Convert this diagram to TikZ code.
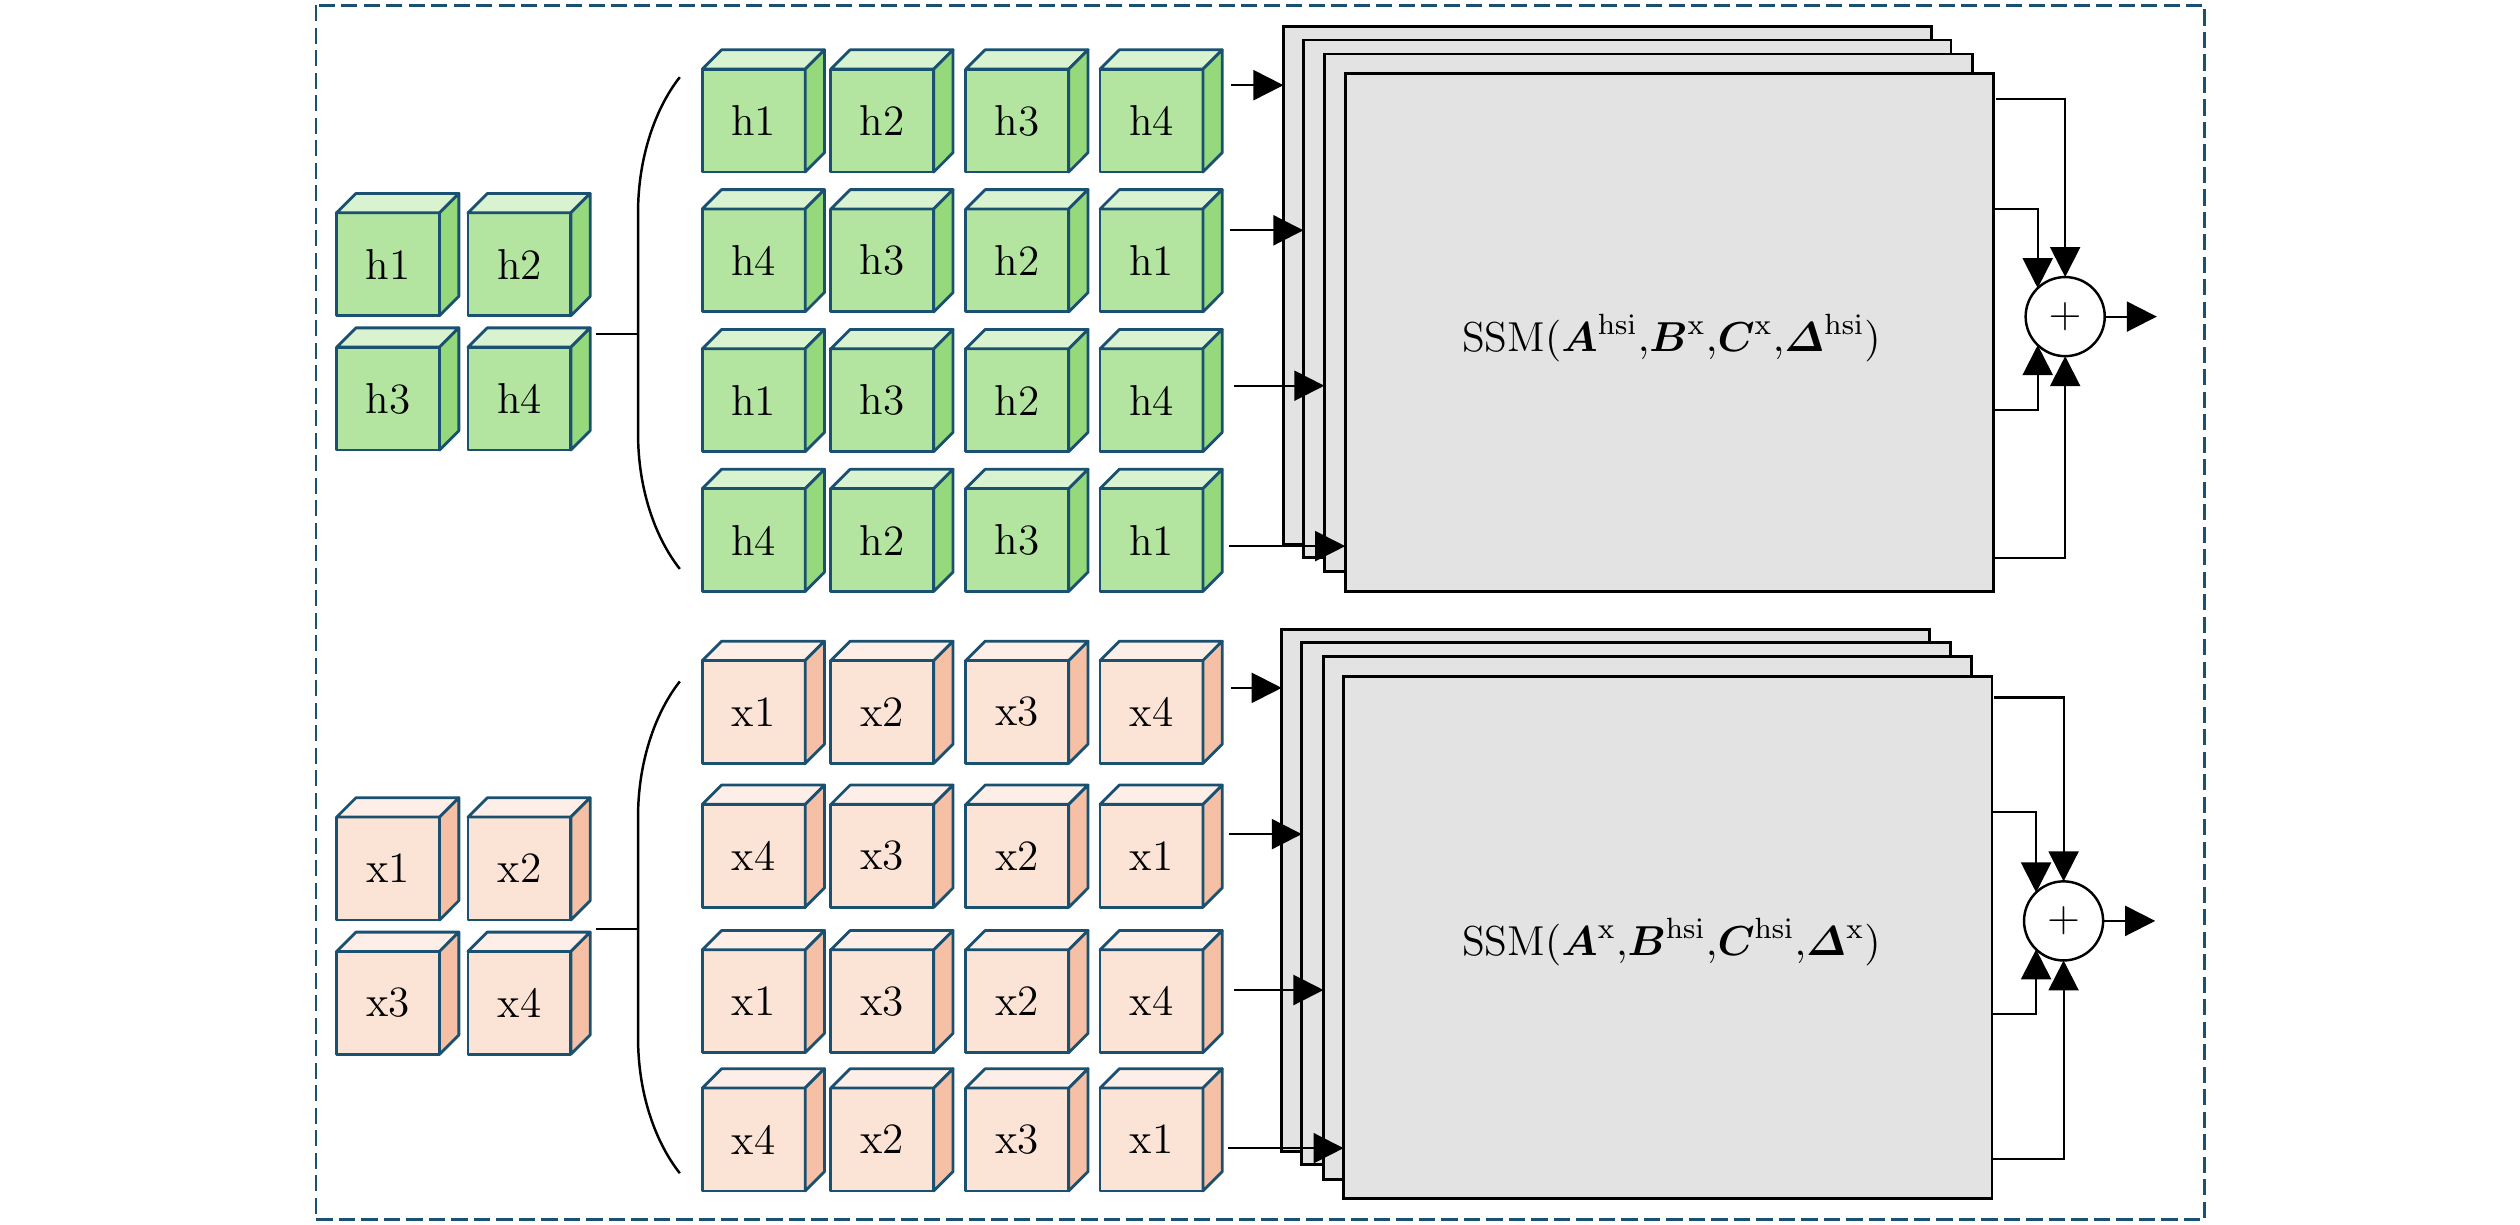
\RequirePackage{fix-cm}
\documentclass[tikz,border=0pt]{standalone}
\usepackage{amsmath}
\usetikzlibrary{arrows.meta,fit}
\definecolor{gfront}{HTML}{B3E5A1}
\definecolor{gtop}{HTML}{D9F2D0}
\definecolor{gside}{HTML}{95D97C}
\definecolor{ofront}{HTML}{FBE3D6}
\definecolor{otop}{HTML}{FDEFE8}
\definecolor{oside}{HTML}{F5C0A5}
\definecolor{cubeblue}{HTML}{1B5170}
\definecolor{boxgray}{HTML}{E3E3E3}
\tikzset{
  lbl/.style={font=\fontsize{12.3}{14}\selectfont},
  ssmlbl/.style={font=\fontsize{11.9}{14}\selectfont, anchor=base, inner sep=0pt},
  cubeline/.style={draw=cubeblue, line width=0.8pt, line join=round},
  cubefront/.style={cubeline, rectangle, minimum width=1.0286cm, minimum height=1.0286cm, inner sep=0pt, outer sep=0pt, lbl},
  ssmbox/.style={draw=black, fill=boxgray, line width=0.8pt, inner sep=0pt, outer sep=0pt},
  arr/.style={-{Triangle[length=0.3cm,width=0.3cm]}, line width=0.6pt},
  plainline/.style={line width=0.6pt},
  bracketline/.style={line width=0.7pt},
  plusnode/.style={circle, draw=black, fill=white, line width=0.7pt, minimum size=0.7907cm, inner sep=0pt, outer sep=0pt, lbl},
  dashborder/.style={draw=cubeblue, line width=0.8pt, dash pattern=on 4.6pt off 1.8pt},
}
\newcommand\drawcube[5]{%
  \node[cubefront, fill=#4front] (#1) at (#2+32,#3+32) {#5};
  \draw[cubeline, fill=#4top] (#1.north west) -- ++(12,-12) -- ++(64,0) -- (#1.north east) -- cycle;
  \draw[cubeline, fill=#4side] (#1.north east) -- ++(12,-12) -- ++(0,64) -- (#1.south east) -- cycle;
}
\begin{document}
\begin{tikzpicture}[x=0.016071cm, y=-0.016071cm]
\useasboundingbox (0,0) rectangle (1568,762);
\draw[dashborder] (196.6,3.3) rectangle (1371.7,759);

% ---------- top (green) ----------
\drawcube{sh1}{209.5}{132.4}{g}{h1}
\drawcube{sh2}{291.2}{132.4}{g}{h2}
\drawcube{sh3}{209.5}{216}{g}{h3}
\drawcube{sh4}{291.2}{216}{g}{h4}

\drawcube{g11}{437}{43}{g}{h1}
\drawcube{g12}{517}{43}{g}{h2}
\drawcube{g13}{601}{43}{g}{h3}
\drawcube{g14}{684.5}{43}{g}{h4}
\drawcube{g21}{437}{130}{g}{h4}
\drawcube{g22}{517}{130}{g}{h3}
\drawcube{g23}{601}{130}{g}{h2}
\drawcube{g24}{684.5}{130}{g}{h1}
\drawcube{g31}{437}{217}{g}{h1}
\drawcube{g32}{517}{217}{g}{h3}
\drawcube{g33}{601}{217}{g}{h2}
\drawcube{g34}{684.5}{217}{g}{h4}
\drawcube{g41}{437}{304}{g}{h4}
\drawcube{g42}{517}{304}{g}{h2}
\drawcube{g43}{601}{304}{g}{h3}
\drawcube{g44}{684.5}{304}{g}{h1}

\coordinate (tl) at (371,208);
\coordinate (tk) at (397,208);
\draw[plainline] (tl) -- (tk);
\draw[bracketline] (423,48) .. controls (408,67) and (397,97.5) .. (397,132.5) -- (397,269.5) .. controls (397,305) and (408,335) .. (423,354);

\node[ssmbox, fit={(798.6,16.6) (1201.7,338.7)}] (tb1) {};
\node[ssmbox, fit={(811,24.9) (1214,346.8)}] (tb2) {};
\node[ssmbox, fit={(824,33.6) (1227.5,355.7)}] (tb3) {};
\node[ssmbox, fit={(837,45.6) (1240.4,368.2)}] (tb4) {};
\node[ssmlbl] (tssm) at (1040,219) {SSM$(\boldsymbol{A}^{\mathrm{hsi}}{,}\boldsymbol{B}^{\mathrm{x}}{,}\boldsymbol{C}^{\mathrm{x}}{,}\boldsymbol{\varDelta}^{\mathrm{hsi}})$};

\coordinate (ta1) at (766,53);
\coordinate (ta2) at (765.4,143.3);
\coordinate (ta3) at (768,240);
\coordinate (ta4) at (765,339.8);
\draw[arr] (ta1) -- (ta1 -| tb1.west);
\draw[arr] (ta2) -- (ta2 -| tb2.west);
\draw[arr] (ta3) -- (ta3 -| tb3.west);
\draw[arr] (ta4) -- (ta4 -| tb4.west);

\node[plusnode] (tp) at (1285,197) {$+$};
\coordinate (tr1) at (1242,61.8);
\coordinate (tr2) at (1240.4,130);
\coordinate (tr3) at (1240.4,255);
\coordinate (tr4) at (1240.4,347);
\draw[arr] (tr1) -| (tp.north);
\draw[arr] (tr2) -| (tp.134);
\draw[arr] (tr3) -| (tp.226);
\draw[arr] (tr4) -| (tp.south);
\coordinate (tout) at (1342,197);
\draw[arr] (tp.east) -- (tout);

% ---------- bottom (orange) ----------
\drawcube{sx1}{209.5}{508.4}{o}{x1}
\drawcube{sx2}{291.2}{508.4}{o}{x2}
\drawcube{sx3}{209.5}{592}{o}{x3}
\drawcube{sx4}{291.2}{592}{o}{x4}

\drawcube{o11}{437}{411}{o}{x1}
\drawcube{o12}{517}{411}{o}{x2}
\drawcube{o13}{601}{411}{o}{x3}
\drawcube{o14}{684.5}{411}{o}{x4}
\drawcube{o21}{437}{500.5}{o}{x4}
\drawcube{o22}{517}{500.5}{o}{x3}
\drawcube{o23}{601}{500.5}{o}{x2}
\drawcube{o24}{684.5}{500.5}{o}{x1}
\drawcube{o31}{437}{591}{o}{x1}
\drawcube{o32}{517}{591}{o}{x3}
\drawcube{o33}{601}{591}{o}{x2}
\drawcube{o34}{684.5}{591}{o}{x4}
\drawcube{o41}{437}{677}{o}{x4}
\drawcube{o42}{517}{677}{o}{x2}
\drawcube{o43}{601}{677}{o}{x3}
\drawcube{o44}{684.5}{677}{o}{x1}

\coordinate (bl) at (371,578);
\coordinate (bk) at (397,578);
\draw[plainline] (bl) -- (bk);
\draw[bracketline] (423,424) .. controls (408,443) and (397,473.5) .. (397,508.5) -- (397,645.5) .. controls (397,681) and (408,711) .. (423,730);

\node[ssmbox, fit={(797.5,391.6) (1200.5,716.7)}] (bb1) {};
\node[ssmbox, fit={(810,399.7) (1213.5,724.5)}] (bb2) {};
\node[ssmbox, fit={(823.5,408.6) (1226.5,733.7)}] (bb3) {};
\node[ssmbox, fit={(836,421.1) (1239.5,745.9)}] (bb4) {};
\node[ssmlbl] (bssm) at (1040,594.5) {SSM$(\boldsymbol{A}^{\mathrm{x}}{,}\boldsymbol{B}^{\mathrm{hsi}}{,}\boldsymbol{C}^{\mathrm{hsi}}{,}\boldsymbol{\varDelta}^{\mathrm{x}})$};

\coordinate (ba1) at (766,428);
\coordinate (ba2) at (764.5,519);
\coordinate (ba3) at (768,616);
\coordinate (ba4) at (764,714.4);
\draw[arr] (ba1) -- (ba1 -| bb1.west);
\draw[arr] (ba2) -- (ba2 -| bb2.west);
\draw[arr] (ba3) -- (ba3 -| bb3.west);
\draw[arr] (ba4) -- (ba4 -| bb4.west);

\node[plusnode] (bp) at (1284,573) {$+$};
\coordinate (br1) at (1241,434);
\coordinate (br2) at (1239.5,505);
\coordinate (br3) at (1239.5,631);
\coordinate (br4) at (1239.5,721);
\draw[arr] (br1) -| (bp.north);
\draw[arr] (br2) -| (bp.134);
\draw[arr] (br3) -| (bp.226);
\draw[arr] (br4) -| (bp.south);
\coordinate (bout) at (1341,573);
\draw[arr] (bp.east) -- (bout);
\end{tikzpicture}
\end{document}
